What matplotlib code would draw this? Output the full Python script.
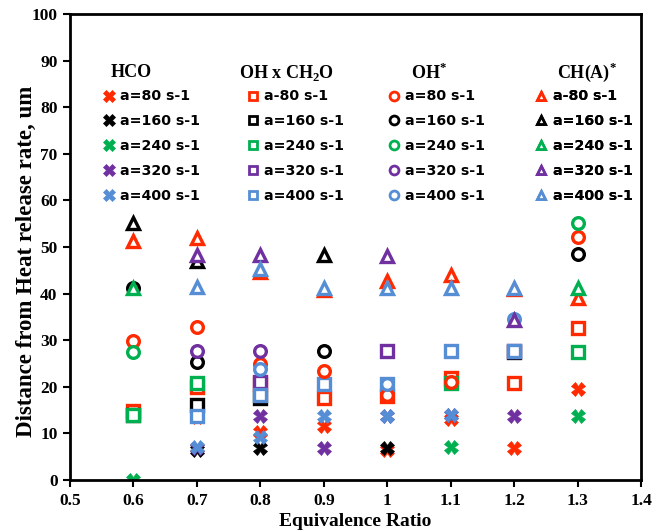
import numpy as np
import matplotlib.pyplot as plt
from matplotlib.lines import Line2D

plt.rcParams['mathtext.fontset'] = 'custom'
plt.rcParams['mathtext.rm'] = 'Liberation Serif:bold'
plt.rcParams['mathtext.bf'] = 'Liberation Serif:bold'

nan = np.nan
phi = [0.6, 0.7, 0.8, 0.9, 1.0, 1.1, 1.2, 1.3]

# HCO peak offsets (um) for each strain rate
hco_80 = [14.0, 13.5, 10.3, 11.5, 6.5, 13.0, 6.8, 19.5]
hco_160 = [14.0, 6.5, 6.8, nan, 6.9, nan, nan, nan]
hco_240 = [0.0, nan, nan, nan, nan, 7.0, nan, 13.8]
hco_320 = [nan, 6.9, 13.7, 6.9, 13.8, 14.0, 13.7, nan]
hco_400 = [nan, 7.0, 9.2, 13.8, 13.8, 14.0, nan, nan]

# OH x CH2O
ohch2o_80 = [14.8, 20.0, 20.5, 17.5, 18.0, 21.8, 20.8, 32.6]
ohch2o_160 = [14.0, 16.0, 17.7, nan, nan, nan, 27.5, nan]
ohch2o_240 = [14.0, 20.9, nan, nan, nan, 20.9, nan, 27.5]
ohch2o_320 = [nan, nan, 21.1, nan, 27.6, nan, 27.6, nan]
ohch2o_400 = [nan, 13.8, 18.3, 20.7, 20.7, 27.6, 27.6, nan]

# OH*
oh_80 = [29.8, 32.8, 25.0, 23.3, 18.2, 21.0, nan, 52.2]
oh_160 = [41.3, 25.3, nan, 27.6, nan, nan, nan, 48.5]
oh_240 = [27.5, nan, nan, nan, nan, nan, nan, 55.2]
oh_320 = [nan, 27.7, 27.7, nan, nan, nan, nan, nan]
oh_400 = [nan, nan, 23.8, nan, 20.7, nan, 34.5, nan]

# CH(A)*
ch_80 = [51.3, 52.0, 44.7, 40.8, 42.7, 44.0, 41.0, 39.0]
ch_160 = [55.2, 47.0, nan, 48.3, nan, nan, nan, nan]
ch_240 = [41.3, nan, nan, nan, nan, nan, nan, 41.1]
ch_320 = [nan, 48.3, 48.3, nan, 48.0, nan, 34.3, nan]
ch_400 = [nan, 41.4, 45.3, 41.2, 41.3, 41.3, 41.3, nan]

colors = ['#FF2A00', 'black', '#00B050', '#7030A0', '#558ED5']
labels_eq = ['a=80 s-1', 'a=160 s-1', 'a=240 s-1', 'a=320 s-1', 'a=400 s-1']
labels_dash = ['a-80 s-1'] + labels_eq[1:]

groups = [
    (r'HCO', 'X', [hco_80, hco_160, hco_240, hco_320, hco_400], labels_eq, 0.107, 0.056),
    (r'OH x CH$_\mathbf{2}$O', 's', [ohch2o_80, ohch2o_160, ohch2o_240, ohch2o_320, ohch2o_400],
     labels_dash, 0.380, 0.308),
    (r'OH$^\mathbf{*}$', 'o', [oh_80, oh_160, oh_240, oh_320, oh_400], labels_eq, 0.628, 0.555),
    (r'CH(A)$^\mathbf{*}$', '^', [ch_80, ch_160, ch_240, ch_320, ch_400], labels_dash, 0.905, 0.813),
]

fig = plt.figure(figsize=(6.58, 5.32), dpi=100)
ax = fig.add_axes([0.1064, 0.0977, 0.8678, 0.876])

serif = {'family': 'Liberation Serif', 'weight': 'bold'}

for title, marker, series, labels, tx, lx in groups:
    handles = []
    for vals, c, lab in zip(series, colors, labels):
        if marker == 'X':
            kw = dict(marker='X', markersize=10, markerfacecolor=c,
                      markeredgecolor=c, markeredgewidth=0.5)
            lkw = {**kw, 'markersize': 9}
        else:
            kw = dict(marker=marker, markersize=8.4, markerfacecolor='white',
                      markeredgecolor=c, markeredgewidth=2.4)
            lkw = {**kw, 'markersize': 6.4, 'markeredgewidth': 2.0}
        ax.plot(phi, vals, linestyle='none', **kw)
        handles.append(Line2D([], [], linestyle='none', label=lab, **lkw))
    ax.text(tx, 0.874, title, transform=ax.transAxes, ha='center', va='center',
            fontsize=13, **serif)
    leg = ax.legend(handles=handles, loc='upper left', bbox_to_anchor=(lx, 0.838),
                    bbox_transform=ax.transAxes, frameon=False, borderpad=0,
                    borderaxespad=0, handlelength=1.0, handletextpad=0.3,
                    labelspacing=0.76, prop={'family': 'DejaVu Sans', 'weight': 'bold', 'size': 10.2})
    ax.add_artist(leg)

ax.set_xlim(0.5, 1.4)
ax.set_ylim(0, 100)
xt = np.round(np.arange(0.5, 1.41, 0.1), 1)
ax.set_xticks(xt)
ax.set_xticklabels([f'{v:g}' for v in xt])
ax.set_yticks(np.arange(0, 101, 10))

for lbl in ax.get_xticklabels() + ax.get_yticklabels():
    lbl.set_fontfamily('Liberation Serif')
    lbl.set_fontweight('bold')
    lbl.set_fontsize(12.5)

ax.tick_params(direction='out', length=5, width=1.5, pad=4)
for s in ax.spines.values():
    s.set_linewidth(2)

ax.set_xlabel('Equivalence Ratio', fontsize=14, labelpad=3, **serif)
ax.set_ylabel('Distance from Heat release rate, um', fontsize=16.5, **serif)
ax.yaxis.set_label_coords(-0.058, 0.47)

fig.savefig('out.png', dpi=100)
